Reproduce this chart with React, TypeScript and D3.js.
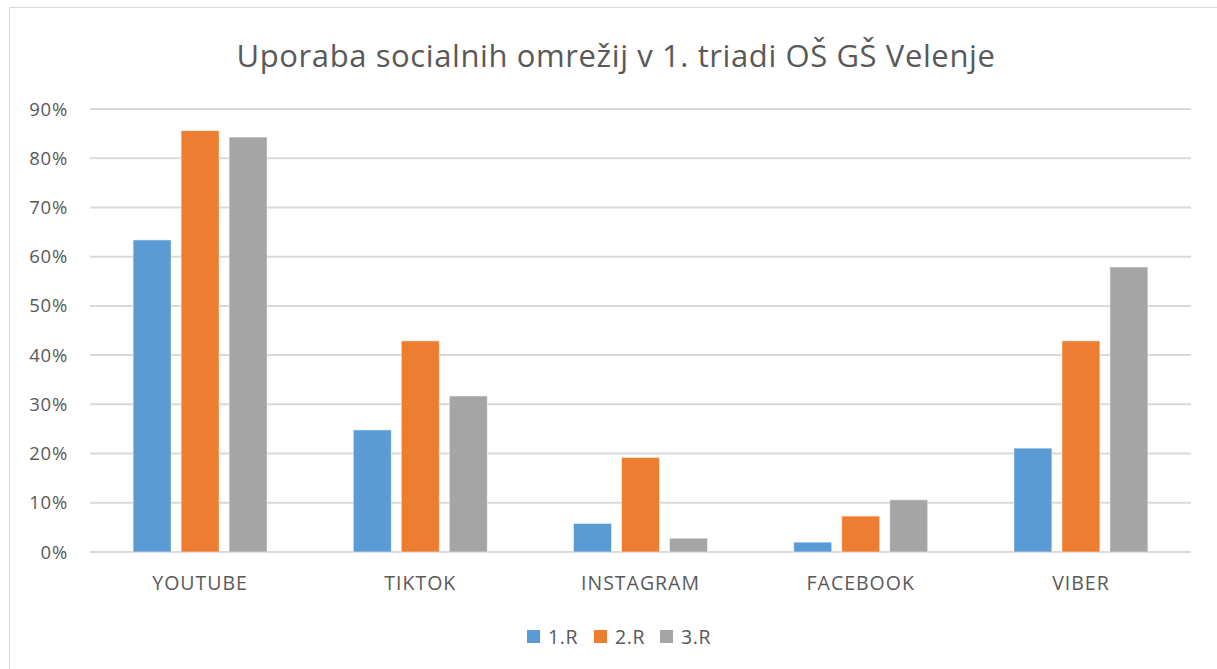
import React from "react";
import * as d3 from "d3";

const categories = ["YOUTUBE", "TIKTOK", "INSTAGRAM", "FACEBOOK", "VIBER"];
const seriesNames = ["1.R", "2.R", "3.R"];
const series1 = [0.634, 0.248, 0.058, 0.02, 0.211];
const series2 = [0.856, 0.429, 0.192, 0.073, 0.429];
const series3 = [0.843, 0.317, 0.028, 0.106, 0.579];
const yTicks = [0, 0.1, 0.2, 0.3, 0.4, 0.5, 0.6, 0.7, 0.8, 0.9];
const colors = ["#5B9BD5", "#ED7D31", "#A5A5A5"];
const title = "Uporaba socialnih omrežij v 1. triadi OŠ GŠ Velenje";

export default function App() {
  const W = 1217, H = 669;
  const left = 90, right = 1191, top = 109, bottom = 552;
  const allSeries = [series1, series2, series3];
  const x0 = d3.scaleBand().domain(categories).range([left, right]).paddingInner(0).paddingOuter(0);
  const y = d3.scaleLinear().domain([0, 0.9]).range([bottom, top]);
  const barW = 38, gap = 10;
  const groupW = barW * 3 + gap * 2;
  const font = "'Open Sans', 'Liberation Sans', sans-serif";
  const legendX = [527, 594, 660];
  return (
    <svg width={W} height={H} style={{ position: "absolute", left: 0, top: 0, background: "#fff" }}>
      <rect x={9.5} y={7.5} width={W + 10} height={H + 10} fill="#fff" stroke="#D9D9D9" strokeWidth={1} />
      <text x={616} y={67} textAnchor="middle" fontFamily={font} fontSize={31} letterSpacing={0.6} fill="#595959">{title}</text>
      {yTicks.map((t) => (
        <g key={t}>
          <line x1={left} x2={right} y1={y(t)} y2={y(t)} stroke="#D9D9D9" strokeWidth={2} />
          <text x={68} y={y(t) + 6.5} textAnchor="end" fontFamily={font} fontSize={18.5} letterSpacing={0.8} fill="#595959">{d3.format(".0%")(t)}</text>
        </g>
      ))}
      {categories.map((c, i) => {
        const cx = x0(c)! + x0.bandwidth() / 2;
        return (
          <g key={c}>
            {allSeries.map((s, k) => (
              <rect key={k} x={cx - groupW / 2 + k * (barW + gap)} y={y(s[i])} width={barW} height={bottom - y(s[i])}
                fill={colors[k]} stroke="#fff" strokeOpacity={0.5} strokeWidth={1} />
            ))}
            <text x={cx} y={590} textAnchor="middle" fontFamily={font} fontSize={19.5} letterSpacing={1} fill="#595959">{c}</text>
          </g>
        );
      })}
      {seriesNames.map((n, k) => (
        <g key={n}>
          <rect x={legendX[k]} y={630} width={13} height={13} fill={colors[k]} />
          <text x={legendX[k] + 21} y={644} fontFamily={font} fontSize={19.5} letterSpacing={0.6} fill="#595959">{n}</text>
        </g>
      ))}
    </svg>
  );
}
